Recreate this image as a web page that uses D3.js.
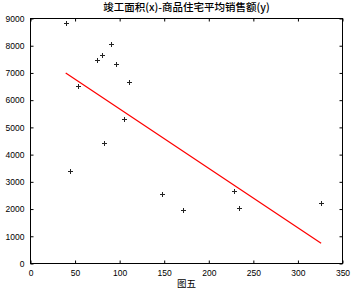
<!DOCTYPE html>
<html>
<head>
<meta charset="utf-8">
<script src="https://cdn.jsdelivr.net/npm/d3@7"></script>
<style>
    body { margin: 0; background: #fff; }
    text { font-family: Arial, "Liberation Sans", "Noto Sans CJK SC", sans-serif; }
</style>
</head>
<body>
<script>
// completed area (x) vs average sales price (y)
const areaX = [40, 53, 75, 80, 90, 96, 110, 105, 83, 44, 147, 228, 171, 234, 326];
const priceY = [8850, 6510, 7460, 7670, 8070, 7340, 6650, 5300, 4430, 3400, 2540, 2670, 1980, 2040, 2220];

// fitted line end points
const fitX = [39.5, 326];
const fitY = [7000, 745];

const xTicks = [0, 50, 100, 150, 200, 250, 300, 350];
const yTicks = [0, 1000, 2000, 3000, 4000, 5000, 6000, 7000, 8000, 9000];

const titleText = '竣工面积(x)-商品住宅平均销售额(y)';
const xLabelText = '图五';

const width = 352;
const height = 291;
const marginTop = 18.5;
const marginRight = 9.5;
const marginBottom = 27.5;
const marginLeft = 30.5;

const svg = d3.select('body')
    .append('svg')
    .attr('width', width)
    .attr('height', height);

const x = d3.scaleLinear().domain([0, 350]).range([marginLeft, width - marginRight]);
const y = d3.scaleLinear().domain([0, 9000]).range([height - marginBottom, marginTop]);

// axes with inward ticks on all four sides
const axisFont = 8.5;
const fmt = d3.format('d');
const xAxis = svg.append('g')
    .attr('transform', `translate(0,${height - marginBottom})`)
    .call(d3.axisBottom(x).tickValues(xTicks).tickFormat(fmt).tickSizeInner(-3).tickSizeOuter(0).tickPadding(6));
const yAxis = svg.append('g')
    .attr('transform', `translate(${marginLeft},0)`)
    .call(d3.axisLeft(y).tickValues(yTicks).tickFormat(fmt).tickSizeInner(-3).tickSizeOuter(0).tickPadding(6));
const xTop = svg.append('g')
    .attr('transform', `translate(0,${marginTop})`)
    .call(d3.axisTop(x).tickValues(xTicks).tickSizeInner(-3).tickSizeOuter(0).tickFormat(''));
const yRight = svg.append('g')
    .attr('transform', `translate(${width - marginRight},0)`)
    .call(d3.axisRight(y).tickValues(yTicks).tickSizeInner(-3).tickSizeOuter(0).tickFormat(''));

[xAxis, yAxis, xTop, yRight].forEach(g =>
{
    g.selectAll('.domain').remove();
    g.selectAll('line').attr('stroke', '#000');
    g.selectAll('text')
        .attr('fill', '#000')
        .style('font-size', axisFont + 'px')
        .style('font-family', 'Arial, "Liberation Sans", sans-serif');
});

// box
svg.append('rect')
    .attr('x', marginLeft)
    .attr('y', marginTop)
    .attr('width', width - marginLeft - marginRight)
    .attr('height', height - marginTop - marginBottom)
    .attr('fill', 'none')
    .attr('stroke', '#000')
    .attr('stroke-width', 1);

// fitted line
svg.append('line')
    .attr('x1', x(fitX[0]))
    .attr('y1', y(fitY[0]))
    .attr('x2', x(fitX[1]))
    .attr('y2', y(fitY[1]))
    .attr('stroke', '#ff0000')
    .attr('stroke-width', 1.3);

// plus markers
const arm = 2.5;
const pts = svg.append('g').attr('stroke', '#222').attr('stroke-width', 1);
areaX.forEach((d, i) =>
{
    const cx = Math.round(x(d)) + 0.5;
    const cy = Math.round(y(priceY[i])) + 0.5;
    pts.append('line').attr('x1', cx - arm).attr('x2', cx + arm).attr('y1', cy).attr('y2', cy);
    pts.append('line').attr('x1', cx).attr('x2', cx).attr('y1', cy - arm).attr('y2', cy + arm);
});

// title and x label
svg.append('text')
    .attr('x', (marginLeft + width - marginRight) / 2)
    .attr('y', 11)
    .attr('text-anchor', 'middle')
    .style('font-size', '10.5px')
    .style('font-weight', '500')
    .style('font-family', '"Noto Sans CJK SC", sans-serif')
    .text(titleText);

svg.append('text')
    .attr('x', (marginLeft + width - marginRight) / 2)
    .attr('y', 287)
    .attr('text-anchor', 'middle')
    .style('font-size', '9.5px')
    .style('font-family', '"Noto Sans CJK SC", sans-serif')
    .text(xLabelText);
</script>
</body>
</html>
